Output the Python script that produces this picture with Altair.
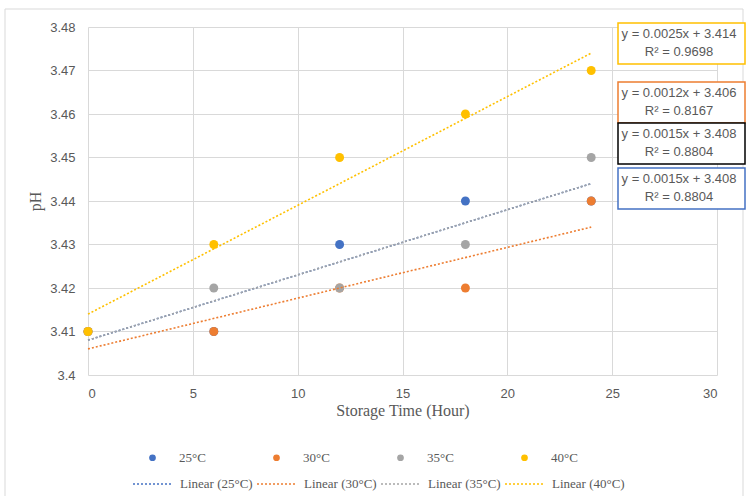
import altair as alt
import pandas as pd

# ---- data ----
hours = [0, 6, 12, 18, 24]
ph_25 = [3.41, 3.41, 3.43, 3.44, 3.44]
ph_30 = [3.41, 3.41, 3.42, 3.42, 3.44]
ph_35 = [3.41, 3.42, 3.42, 3.43, 3.45]
ph_40 = [3.41, 3.43, 3.45, 3.46, 3.47]
series_names = ["25°C", "30°C", "35°C", "40°C"]
trend_names = ["Linear (25°C)", "Linear (30°C)", "Linear (35°C)", "Linear (40°C)"]
y_ticks = [3.40, 3.41, 3.42, 3.43, 3.44, 3.45, 3.46, 3.47, 3.48]
x_ticks = [0, 5, 10, 15, 20, 25, 30]
eq_line1 = ["y = 0.0025x + 3.414", "y = 0.0012x + 3.406", "y = 0.0015x + 3.408", "y = 0.0015x + 3.408"]
eq_line2 = ["R² = 0.9698", "R² = 0.8167", "R² = 0.8804", "R² = 0.8804"]

colors = ["#4472C4", "#ED7D31", "#A5A5A5", "#FFC000"]
eq_border_colors = ["#FFC000", "#ED7D31", "#000000", "#4472C4"]

rows = []
for name, vals in zip(series_names, [ph_25, ph_30, ph_35, ph_40]):
    for h, v in zip(hours, vals):
        rows.append({"hour": h, "ph": v, "series": name})
df = pd.DataFrame(rows)

W, H = 629, 348
tick_font = "Liberation Sans"
serif = "Liberation Serif"
gray_txt = "#595959"

x_enc = alt.X("hour:Q", scale=alt.Scale(domain=[0, 30], nice=False),
              axis=alt.Axis(values=x_ticks, title="Storage Time (Hour)", titleX=W / 2, titleY=27))
y_enc = alt.Y("ph:Q", scale=alt.Scale(domain=[3.40, 3.48], nice=False, zero=False),
              axis=alt.Axis(values=y_ticks, format=".2~f", title="pH", titleX=-45, titleY=H / 2))

base = alt.Chart(df)

points = base.mark_point(filled=True, size=80, opacity=1).encode(
    x=x_enc, y=y_enc,
    color=alt.Color("series:N", scale=alt.Scale(domain=series_names, range=colors),
                    legend=alt.Legend(orient="none", legendX=58, legendY=424, direction="horizontal",
                                      columns=4, title=None, symbolType="circle", symbolSize=45,
                                      symbolStrokeWidth=0, labelFont=serif, labelFontSize=13,
                                      labelColor=gray_txt, labelOffset=20, columnPadding=64, padding=0)),
)

# 25°C trend line drawn underneath (its fit coincides with the 35°C one)
trend_blue = base.transform_filter(alt.datum.series == "25°C").transform_regression(
    "hour", "ph"
).mark_line(strokeDash=[2, 2], strokeWidth=1.6, color=colors[0]).encode(x="hour:Q", y="ph:Q")

trends = base.transform_filter(alt.datum.series != "25°C").transform_regression(
    "hour", "ph", groupby=["series"]
).transform_calculate(
    trend="'Linear (' + datum.series + ')'"
).mark_line(strokeDash=[2, 2], strokeWidth=1.6).encode(
    x="hour:Q", y="ph:Q",
    color=alt.Color("trend:N", scale=alt.Scale(domain=trend_names, range=colors),
                    legend=alt.Legend(orient="none", legendX=44, legendY=436, direction="horizontal",
                                      columns=4, title=None, symbolType="stroke", symbolSize=1600,
                                      symbolStrokeWidth=1.5, symbolDash=[2, 2], labelFont=serif,
                                      labelFontSize=13, labelColor=gray_txt, labelOffset=6,
                                      columnPadding=1, padding=0)),
)

one = pd.DataFrame({"k": [0]})

border = alt.Chart(one).mark_rect(filled=False, stroke="#D9D9D9", strokeWidth=1).encode(
    x=alt.value(-83), x2=alt.value(655), y=alt.value(-18), y2=alt.value(485)
)

box_tops = [-4, 55, 96, 141]
box_h = 41
eq_layers = []
for i in range(4):
    top = box_tops[i]
    eq_layers.append(alt.Chart(one).mark_rect(fill="white", stroke=eq_border_colors[i], strokeWidth=1.5).encode(
        x=alt.value(530), x2=alt.value(657), y=alt.value(top), y2=alt.value(top + box_h)))
    eq_layers.append(alt.Chart(one).mark_text(text=eq_line1[i], font=tick_font, fontSize=13, color=gray_txt,
                                              align="center", baseline="middle").encode(
        x=alt.value(591), y=alt.value(top + 11)))
    eq_layers.append(alt.Chart(one).mark_text(text=eq_line2[i], font=tick_font, fontSize=13, color=gray_txt,
                                              align="center", baseline="middle").encode(
        x=alt.value(591), y=alt.value(top + 29)))

chart = alt.layer(border, points, trend_blue, trends, *eq_layers).resolve_scale(color="independent").properties(
    width=W, height=H,
    autosize=alt.AutoSizeParams(type="none"),
    padding={"left": 88, "top": 27, "right": 35, "bottom": 121},
    background="white",
).configure_view(stroke="transparent").configure_axis(
    domain=False, ticks=False, grid=True, gridColor="#D9D9D9", gridWidth=1,
    labelFont=tick_font, labelFontSize=13, labelColor=gray_txt,
    titleFont=serif, titleFontSize=16, titleColor=gray_txt, titleFontWeight="normal",
).configure_axisY(labelPadding=13).configure_axisX(labelPadding=12)

chart.save("out.html", embed_options={"renderer": "svg", "actions": False})
